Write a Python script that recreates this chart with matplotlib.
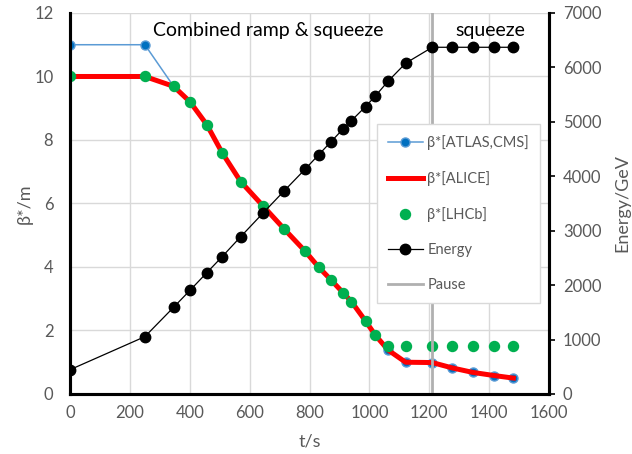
import matplotlib
matplotlib.use("Agg")
import matplotlib.pyplot as plt
from matplotlib.lines import Line2D

plt.rcParams['font.family'] = ['Lato', 'DejaVu Sans']

t = [0, 250, 346, 401, 457, 508, 570, 644, 715, 785, 830, 872, 912, 940,
     987, 1020, 1063, 1121, 1210, 1277, 1345, 1417, 1481]
beta_atlas = [11, 11, 9.69, 9.20, 8.48, 7.60, 6.69, 5.93, 5.20, 4.50, 4.00,
              3.59, 3.19, 2.91, 2.30, 1.85, 1.38, 1.00, 0.99, 0.82, 0.68, 0.58, 0.50]
beta_alice = [10, 10, 9.69, 9.20, 8.48, 7.60, 6.69, 5.93, 5.20, 4.50, 4.00,
              3.59, 3.19, 2.91, 2.30, 1.85, 1.38, 1.00, 0.99, 0.82, 0.68, 0.58, 0.50]
beta_lhcb = [10, 10, 9.69, 9.20, 8.48, 7.60, 6.69, 5.93, 5.20, 4.50, 4.00,
             3.59, 3.19, 2.91, 2.30, 1.85, 1.50, 1.50, 1.50, 1.50, 1.50, 1.50, 1.50]
energy = [446, 1053, 1593, 1906, 2229, 2522, 2889, 3320, 3730, 4128, 4392,
          4636, 4869, 5022, 5279, 5475, 5750, 6077, 6370, 6370, 6370, 6370, 6370]
pause_t = 1210

gray = '#595959'
fig = plt.figure(figsize=(6.32, 4.54), dpi=100)
ax = fig.add_axes([0.1108, 0.1322, 0.7579, 0.8392])
ax2 = ax.twinx()

ax.set_xlim(0, 1600)
ax.set_ylim(0, 12)
ax2.set_ylim(0, 7000)
ax.set_xticks(range(0, 1601, 200))
ax.set_yticks(range(0, 13, 2))
ax2.set_yticks(range(0, 7001, 1000))
ax.grid(True, color='#d9d9d9', linewidth=1)
ax.set_axisbelow(True)

ax.plot(t, beta_atlas, color='#5b9bd5', linewidth=1.1, marker='o', markersize=6.5,
        markerfacecolor='#0070c0', markeredgecolor='#5b9bd5', zorder=3)
ax.plot(t, beta_alice, color='#ff0000', linewidth=3.6, zorder=4)
ax.plot(t, beta_lhcb, linestyle='none', marker='o', markersize=7.2,
        color='#00b050', zorder=5)

ax2.axvline(pause_t, color='#b0b0b0', linewidth=2, zorder=1)
ax2.plot(t, energy, color='black', linewidth=0.9, marker='o', markersize=7.5, zorder=6)

for a in (ax, ax2):
    a.spines['top'].set_visible(False)
    for s in ['left', 'right', 'bottom']:
        a.spines[s].set_linewidth(2.2)
        a.spines[s].set_color('black')

ax.tick_params(axis='both', length=0, labelsize=12, labelcolor=gray, pad=8)
ax.tick_params(axis='y', pad=12)
ax2.tick_params(axis='y', length=4, width=1.2, direction='out', labelsize=12,
                labelcolor=gray, pad=6)

ax.set_xlabel('t/s', fontsize=13, color=gray, labelpad=9)
ax.set_ylabel('β*/m', fontsize=13, color=gray, labelpad=1)
ax2.set_ylabel('Energy/GeV', fontsize=13, color=gray, labelpad=9)

ax.text(277, 11.46, 'Combined ramp & squeeze', fontsize=14, color='black',
        ha='left', va='center')
ax.text(1520, 11.46, 'squeeze', fontsize=14, color='black', ha='right', va='center')

handles = [
    Line2D([], [], color='#5b9bd5', linewidth=1.1, marker='o', markersize=6.5,
           markerfacecolor='#0070c0', markeredgecolor='#5b9bd5'),
    Line2D([], [], color='#ff0000', linewidth=3.6),
    Line2D([], [], linestyle='none', marker='o', markersize=7.2, color='#00b050'),
    Line2D([], [], color='black', linewidth=0.9, marker='o', markersize=7.5),
    Line2D([], [], color='#b0b0b0', linewidth=2),
]
labels = ['β*[ATLAS,CMS]', 'β*[ALICE]', 'β*[LHCb]', 'Energy', 'Pause']
leg = ax2.legend(handles, labels, loc='upper left',
                 bbox_to_anchor=((377 - 70) / 479, (394 - 124) / 381),
                 bbox_transform=ax.transAxes, fontsize=10.5, frameon=True,
                 fancybox=False, edgecolor='#d9d9d9', framealpha=1,
                 labelspacing=1.45, handlelength=2.4, handletextpad=0.3,
                 borderpad=0.75, borderaxespad=0)
leg.get_frame().set_linewidth(1)
for txt in leg.get_texts():
    txt.set_color(gray)
leg.set_zorder(10)

fig.savefig('out.png', dpi=100)
